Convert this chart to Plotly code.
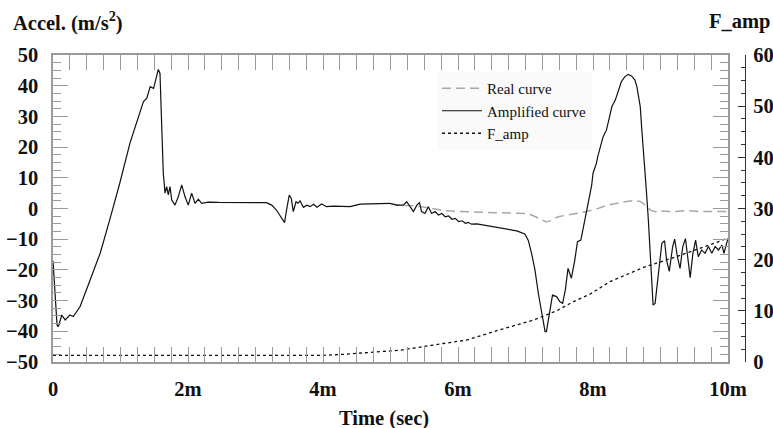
import plotly.graph_objects as go

# Time axis is in milliseconds (labelled "2m", "4m", ...)
t_amp = [0.0, 0.04, 0.06, 0.08, 0.13, 0.18, 0.25, 0.30, 0.40, 0.55, 0.70, 0.84, 0.99,
         1.14, 1.29, 1.34, 1.39, 1.44, 1.49, 1.54, 1.56, 1.585, 1.61, 1.634, 1.66,
         1.684, 1.708, 1.733, 1.758, 1.807, 1.856, 1.907, 1.956, 2.004, 2.054, 2.104,
         2.153, 2.203, 2.30, 2.45, 3.16, 3.24, 3.31, 3.39, 3.43, 3.46, 3.50, 3.53,
         3.56, 3.60, 3.63, 3.66, 3.71, 3.76, 3.81, 3.86, 3.91, 3.98, 4.05, 4.15,
         4.30, 4.40, 4.55, 4.75, 4.99, 5.09, 5.19, 5.24, 5.29, 5.34, 5.39, 5.43,
         5.46, 5.51, 5.56, 5.61, 5.66, 5.71, 5.76, 5.81, 5.86, 5.91, 5.96, 6.01,
         6.06, 6.11, 6.15, 6.20, 6.28, 6.47, 6.67, 6.87, 6.99, 7.04, 7.09, 7.14,
         7.19, 7.24, 7.29, 7.31, 7.35, 7.40, 7.46, 7.51, 7.55, 7.59, 7.63, 7.68,
         7.73, 7.77, 7.82, 7.86, 7.91, 7.94, 7.98, 8.00, 8.05, 8.07, 8.10, 8.15,
         8.20, 8.23, 8.28, 8.33, 8.38, 8.42, 8.47, 8.52, 8.57, 8.62, 8.65, 8.70,
         8.72, 8.76, 8.79, 8.82, 8.87, 8.89, 8.92, 8.97, 9.02, 9.06, 9.09, 9.13,
         9.18, 9.21, 9.25, 9.29, 9.33, 9.37, 9.41, 9.44, 9.48, 9.52, 9.56, 9.61,
         9.66, 9.71, 9.76, 9.81, 9.86, 9.91, 9.94, 9.98, 10.0]
acc_amp = [-17, -32, -38, -38.5, -34.7, -36.3, -34.7, -35.2, -32, -23.3, -14.5, -3.7, 8.3,
           21.3, 31.5, 34.8, 35.9, 39.7, 39.1, 42.9, 45.3, 44, 27.8, 11.5, 5,
           7.1, 4.4, 7.1, 2.8, 1.1, 3.8, 7.7, 3.8, 1.1, 5, 1.7,
           3, 1.7, 2.1, 2.0, 1.9, 1.1, -0.5, -3.2, -4.6, -0.5, 4.4, 3.3,
           -1, 2.2, 1.7, 2.5, 0.4, 1.1, 0.6, 1.4, 0.4, 1.5, 0.6, 0.8,
           0.8, 0.6, 1.4, 1.5, 1.7, 1.1, 1.1, 2.2, 0.6, -1, 1.1, 1.9,
           -1, -1.6, 0.6, -1.6, -1, -2.1, -1.6, -2.7, -2.4, -3.5, -3.2, -4.3,
           -4, -4.8, -4.5, -5.1, -5.0, -5.7, -6.5, -7.3, -8.3, -10.3, -14.6, -20,
           -27.6, -34.1, -40.1, -40.1, -35.2, -28.2, -28.7, -30.4, -30.9, -26.5, -19.5, -22.7,
           -16.8, -10.8, -10.3, -5.9, 0.6, 2.8, 7.5, 11.5, 14.7, 16.9, 19.1, 23.4,
           25.6, 28.8, 33.2, 35.3, 38.6, 41.3, 42.9, 43.7, 43.2, 41.9, 39.7, 33.2,
           26.6, 15.8, 6, -3.7, -21.1, -31.4, -30.9, -21.1, -11.3, -10.5, -16.8, -20.5,
           -12.4, -10, -15.7, -19.5, -12.4, -9.8, -16.8, -22.5, -14.6, -10.3, -15.7, -13.5,
           -14.6, -12.4, -14.6, -12.4, -13.5, -11.9, -14.6, -11.3, -9.7]

t_real = [5.0, 5.2, 5.4, 5.6, 5.8, 6.0, 6.25, 6.5, 6.75, 7.0, 7.1, 7.2, 7.3, 7.35,
          7.42, 7.5, 7.6, 7.75, 7.9, 8.05, 8.2, 8.3, 8.4, 8.5, 8.6, 8.7, 8.78,
          8.86, 8.95, 9.0, 9.2, 9.4, 9.6, 9.8, 10.0]
acc_real = [1.5, 1.0, 0.8, 0.0, -0.7, -1.0, -1.2, -1.4, -1.4, -1.6, -2.2, -3.3, -4.3, -4.2,
            -3.3, -2.6, -2.1, -1.6, -1.0, -0.2, 1.0, 1.5, 2.0, 2.3, 2.6, 2.3, 1.0,
            -0.7, -1.2, -0.8, -1.0, -0.7, -1.0, -0.9, -1.0]

t_famp = [0.0, 1.0, 2.0, 3.0, 4.0, 4.3, 4.6, 5.14, 5.63, 6.13, 6.62, 7.12, 7.46, 7.71,
          7.96, 8.25, 8.75, 9.24, 9.73, 10.0]
f_amp = [1.3, 1.3, 1.3, 1.3, 1.3, 1.5, 1.8, 2.3, 3.3, 4.3, 6.3, 8.2, 10.0, 11.8,
         13.3, 15.7, 18.5, 20.6, 22.9, 24.2]

x_tickvals = [0, 1, 2, 3, 4, 5, 6, 7, 8, 9, 10]
x_ticktext = ["0", " ", "2m", " ", "4m", " ", "6m", " ", "8m", " ", "10m"]
y_tickvals = [-50, -40, -30, -20, -10, 0, 10, 20, 30, 40, 50]
y2_tickvals = [0, 10, 20, 30, 40, 50, 60]

SERIF = "Liberation Serif, Times New Roman, serif"
FRAME = "#9a9a9a"
bold_font = dict(family=SERIF, size=20.5, color="#111", weight="bold")

fig = go.Figure()
fig.add_trace(go.Scatter(x=t_real, y=acc_real, mode="lines", name="Real curve",
                         line=dict(color="#a8a8a8", width=1.5, dash="9px,5px")))
fig.add_trace(go.Scatter(x=t_amp, y=acc_amp, mode="lines", name="Amplified curve",
                         line=dict(color="#111", width=1.2)))
fig.add_trace(go.Scatter(x=t_famp, y=f_amp, mode="lines", name="F_amp", yaxis="y2",
                         line=dict(color="#111", width=1.3, dash="3px,3px")))

plot_w = 773 - 53 - 28
fig.update_layout(
    width=773, height=428,
    margin=dict(l=53, r=28, t=55, b=66, autoexpand=False),
    paper_bgcolor="white", plot_bgcolor="white",
    showlegend=True,
    legend=dict(x=(437 - 53) / plot_w, y=(362 - 72) / 307, xanchor="left", yanchor="top",
                bgcolor="#fafafa", borderwidth=0,
                font=dict(family=SERIF, size=15, color="#111"), itemwidth=40),
    xaxis=dict(domain=[0, 675 / plot_w], range=[0, 10], tickmode="array",
               tickvals=x_tickvals, ticktext=x_ticktext, ticks="inside", ticklen=15,
               tickcolor=FRAME, tickwidth=1, showline=True, linecolor=FRAME, linewidth=1.5,
               mirror="allticks", showgrid=False, zeroline=False, tickfont=bold_font,
               ticklabelstandoff=8, automargin=False,
               minor=dict(dtick=0.25, ticks="inside", ticklen=8, tickcolor=FRAME, showgrid=False)),
    yaxis=dict(range=[-50, 50], tickmode="array", tickvals=y_tickvals, ticks="inside",
               ticklen=15, tickcolor=FRAME, tickwidth=1, showline=True, linecolor=FRAME,
               linewidth=1.5, mirror="allticks", showgrid=False, zeroline=False,
               tickfont=bold_font, automargin=False, ticklabelstandoff=9,
               minor=dict(dtick=2.5, ticks="inside", ticklen=8, tickcolor=FRAME, showgrid=False)),
    yaxis2=dict(range=[0, 60], overlaying="y", side="right", anchor="free", position=1,
                tickmode="array", tickvals=y2_tickvals, ticks="inside", ticklen=7,
                tickcolor="#333", tickwidth=1, showline=True, linecolor="#333", linewidth=1.2,
                showgrid=False, zeroline=False, tickfont=bold_font, automargin=False,
                ticklabelstandoff=3,
                minor=dict(dtick=2.5, ticks="inside", ticklen=4, tickcolor="#333", showgrid=False)),
    annotations=[
        dict(text="Accel. (m/s<sup>2</sup>)", xref="paper", yref="paper",
             x=(11 - 53) / plot_w, y=(362 - 22) / 307, xanchor="left", yanchor="middle",
             showarrow=False, font=bold_font),
        dict(text="F_amp", xref="paper", yref="paper",
             x=(707 - 53) / plot_w, y=(362 - 22) / 307, xanchor="left", yanchor="middle",
             showarrow=False, font=bold_font),
        dict(text="Time (sec)", xref="paper", yref="paper",
             x=(384 - 53) / plot_w, y=(362 - 418) / 307, xanchor="center", yanchor="middle",
             showarrow=False, font=bold_font),
    ],
)

fig.write_html("out.html")
